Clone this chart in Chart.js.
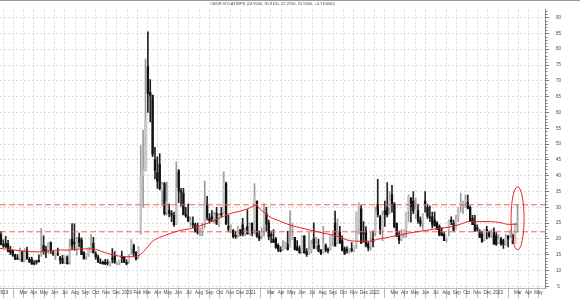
<!DOCTYPE html>
<html><head><meta charset="utf-8">
<script src="https://cdn.jsdelivr.net/npm/chart.js@4"></script>
<style>html,body{margin:0;padding:0;background:#fff;overflow:hidden}</style>
</head><body>
<canvas id="c" width="580" height="298"></canvas>
<script>
const TITLE = 'CBOE VOLAT.IBPS (24.9500, 30.8100, 22.2700, 25.5300, +0.710000)';
const FIRST_WEEK = [2018, 11, 31]; // Monday of the first weekly bar (UTC y, m0, d)

// weekly OHLC, one row per year (week 0 = week of 31 Dec 2018)
const open = [
 28.0,
 21.4,18.2,18.6,18.5,16.3,16.4,14.9,14.0,13.9,16.0,13.1,16.3,13.6,13.6,12.3,12.8,13.2,15.4,18.0,16.5,16.3,18.9,15.5,15.3,15.3,14.1,13.8,12.7,14.3,12.8,20.0,19.0,16.8,20.4,19.7,15.6,14.7,15.2,16.3,18.6,15.3,14.3,12.6,12.6,12.7,12.6,12.0,13.9,14.5,12.5,12.6,14.6,
 14.3,12.5,12.9,17.0,18.0,15.6,14.5,22.0,40.1,42.0,74.5,66.4,65.5,45.0,41.0,43.5,35.5,37.5,28.5,29.0,28.0,27.5,25.0,41.5,35.0,34.5,27.5,27.0,25.5,25.0,24.5,22.5,22.0,22.5,25.0,31.0,26.5,27.0,26.5,28.0,25.0,28.0,28.5,37.5,24.0,23.0,22.7,21.0,21.4,23.0,24.5,22.0,
 24.0,22.0,25.0,23.0,32.0,21.0,21.0,24.0,28.0,25.0,21.5,20.0,20.0,18.0,16.5,17.0,17.5,18.5,17.5,20.0,20.5,17.5,17.0,16.0,21.0,16.0,15.5,16.5,20.0,18.0,18.0,16.5,16.0,18.0,16.5,17.0,20.5,25.0,19.0,22.0,19.5,17.0,16.5,16.5,17.0,16.5,18.0,23.0,29.5,22.0,22.5,18.5,
 17.5,20.0,22.0,31.0,27.0,23.0,29.0,30.0,30.0,34.0,31.0,25.0,21.0,20.0,22.0,23.0,29.0,33.0,32.0,28.0,29.0,26.0,25.0,32.0,30.0,27.0,27.0,26.0,25.0,24.0,22.0,21.5,20.0,23.0,26.0,25.0,23.0,27.0,31.0,31.0,32.0,31.5,30.0,26.5,24.5,23.5,22.5,21.5,20.0,23.0,22.0,21.5,
 22.0,21.0,19.0,20.0,19.5,18.5,21.0,21.5,21.0,18.5,24.95
];
const high = [
 28.5,
 22.4,19.7,20.8,19.6,17.7,16.6,15.2,15.1,17.2,16.0,17.0,17.4,14.2,14.3,13.2,13.3,15.0,23.4,21.0,17.7,18.9,19.1,16.3,16.0,17.1,14.5,14.8,14.6,14.7,19.8,24.9,24.8,20.6,21.9,20.4,16.0,15.4,17.3,21.5,20.5,15.9,14.9,13.7,13.0,13.6,13.5,12.8,17.0,16.0,12.8,13.3,16.2,
 14.5,13.4,15.0,19.8,18.4,16.0,17.5,49.5,54.4,77.0,85.5,70.4,64.0,49.0,46.0,47.0,38.0,37.9,38.0,31.0,29.0,28.5,44.4,42.0,36.0,36.0,30.0,31.0,27.0,27.0,25.0,25.0,23.5,25.0,38.3,33.5,28.0,29.0,28.5,30.0,28.0,30.0,41.2,38.0,27.5,24.5,23.0,22.5,24.0,23.0,26.5,23.5,
 29.2,25.0,25.0,37.5,32.0,22.5,23.5,31.2,30.0,26.0,22.5,23.0,20.5,18.5,17.5,19.5,19.0,22.5,28.9,25.0,20.5,19.5,17.8,21.0,21.0,17.0,22.0,19.5,25.1,20.5,20.0,16.7,24.0,18.5,17.2,21.0,22.5,28.8,26.4,24.0,21.0,17.5,17.5,17.0,18.9,17.9,28.6,31.4,30.6,25.5,23.9,19.0,
 22.0,22.6,30.0,38.9,27.5,28.8,32.0,37.8,35.0,37.0,31.5,25.0,22.5,23.0,23.0,28.5,34.0,33.0,35.0,33.0,31.0,27.0,28.0,35.0,31.0,30.5,28.5,28.5,25.5,24.5,23.5,22.0,20.2,26.0,27.0,26.0,27.5,30.0,34.5,32.0,34.0,33.9,30.5,27.5,27.5,24.5,23.0,22.5,23.0,24.0,22.5,23.0,
 23.5,22.0,21.5,20.5,20.0,21.5,21.0,23.0,21.5,25.0,30.81
];
const low = [
 21.0,
 18.1,17.3,17.4,15.9,15.0,14.5,13.5,13.5,13.2,12.9,12.9,13.6,12.5,12.0,11.8,12.0,12.7,14.5,15.2,14.1,15.5,15.4,14.8,13.5,14.7,12.1,12.2,12.2,12.0,12.0,16.8,16.5,14.9,17.5,15.0,13.7,13.5,14.5,15.8,15.6,13.5,12.6,12.3,12.0,11.9,11.7,11.4,12.4,12.3,11.9,11.8,12.5,
 12.5,11.8,12.3,15.0,14.5,13.3,13.7,21.5,30.0,41.5,60.0,57.0,46.0,39.0,36.0,35.5,30.5,27.5,27.6,27.0,25.5,24.0,24.5,31.5,30.4,27.6,26.8,25.5,24.0,23.5,22.2,21.5,21.0,21.0,23.5,26.0,25.0,25.5,25.0,24.5,24.0,27.0,28.0,24.5,22.4,21.9,20.3,20.2,20.5,21.0,21.0,21.0,
 21.5,21.2,21.0,21.5,20.5,19.5,20.0,20.9,22.5,19.7,18.8,18.8,17.0,16.0,15.9,16.5,16.9,16.5,17.5,19.8,16.5,16.4,15.4,15.5,15.5,14.5,15.0,15.5,16.9,16.8,15.9,15.0,15.5,15.9,15.6,16.5,17.9,17.8,18.5,18.5,16.2,15.0,15.5,15.5,15.9,15.9,17.0,21.6,18.6,19.0,17.5,16.2,
 16.5,17.5,21.0,27.0,21.5,19.5,24.0,27.0,28.0,28.5,23.5,20.8,18.5,19.5,20.5,20.5,25.5,25.3,28.0,26.5,25.0,24.0,23.0,28.5,26.5,25.5,23.5,24.0,23.0,21.0,21.0,19.5,19.0,21.0,24.5,22.5,23.0,25.5,28.5,28.0,30.0,29.5,25.5,24.5,22.5,22.5,20.5,19.0,19.5,20.0,20.5,20.5,
 18.5,18.0,18.5,18.0,17.0,18.0,17.5,20.5,18.5,18.5,22.27
];
const close = [
 21.4,
 18.2,17.8,17.4,16.1,15.7,14.9,13.5,13.6,16.1,12.9,16.5,13.7,12.8,12.0,12.1,12.7,12.9,16.0,16.0,15.9,18.7,16.3,15.3,15.4,15.1,13.3,12.4,14.5,12.2,17.6,18.0,18.5,19.9,19.0,15.0,13.7,15.3,17.2,17.0,15.6,14.3,12.7,12.3,12.1,12.1,12.3,12.6,13.6,12.6,12.5,13.4,14.0,
 12.6,12.1,14.6,18.8,15.5,13.7,17.1,40.1,41.9,57.8,66.0,65.5,46.8,41.7,38.2,35.9,37.2,28.0,31.9,28.2,27.5,24.5,36.1,35.1,34.7,27.7,27.3,25.7,25.8,24.5,22.2,22.1,22.5,23.0,30.8,26.9,25.8,26.4,27.6,25.0,27.4,27.6,38.0,24.9,23.1,23.7,20.8,20.8,23.3,21.6,21.5,22.75,
 21.6,24.3,21.9,33.1,20.9,20.0,22.1,28.0,24.7,20.7,20.95,18.9,17.3,16.7,16.25,17.3,18.6,16.7,18.8,20.15,16.8,16.4,15.65,20.7,15.6,15.1,16.2,18.45,17.2,18.2,16.15,15.45,18.6,16.4,16.4,20.95,20.8,17.75,21.15,18.8,16.3,15.4,16.3,16.5,16.3,17.9,28.6,30.7,18.7,21.6,17.96,17.2,
 18.8,19.2,28.85,27.7,23.2,27.4,27.75,27.6,32.0,30.75,23.9,20.8,19.6,21.2,22.95,28.2,33.4,30.2,28.9,29.4,25.7,24.8,27.75,31.1,27.2,26.7,24.6,24.2,23.0,21.3,21.15,19.5,20.6,25.6,25.5,22.8,26.3,29.9,31.6,31.4,32.0,29.7,25.75,24.55,22.5,23.1,20.5,19.1,22.8,22.6,20.9,21.7,
 18.3,18.35,19.85,18.5,18.3,20.5,20.0,21.7,18.5,24.8,25.53
];

// red moving-average line (week index, value)
const maWeek  = [0,5,9,13,17,22,26,30,34,38,41,43,47,50,53,57,60,62.5,65,68,72,76.5,80.5,85,89,93,97.5,101.5,106,108.5,111,114.5,118.5,123,127,131,135.5,140,144,148,152.5,156.5,160.5,165,169,173.5,177.5,182,186,190,194.5,198.5,203,207,211.5,215.5,219];
const maValue = [17.1,16.6,16.3,16.0,15.9,16.3,16.5,16.5,16.8,16.9,16.7,16.2,15.2,14.7,14.4,14.4,15.2,17.1,19.3,20.5,21.6,22.7,23.2,24.2,25.2,26.5,28.0,28.7,29.8,30.6,29.0,27.0,25.7,24.4,23.6,22.9,22.1,21.4,20.6,19.5,19.3,19.3,20.0,20.6,21.2,21.9,22.4,22.9,23.4,23.7,24.6,25.5,25.5,25.5,25.2,24.6,24.7];

// x-axis labels, one per month from Jan 2019 to Jun 2023
const monthLabels = [
 '2019','','Mar','Apr','May','Jun','Jul','Aug','Sep','Oct','Nov','Dec',
 '2020','Feb','Mar','Apr','May','Jun','Jul','Aug','Sep','Oct','Nov','Dec',
 '2021','','Mar','Apr','May','Jun','Jul','Aug','Sep','Oct','Nov','Dec',
 '2022','','Mar','Apr','May','Jun','Jul','Aug','Sep','Oct','Nov','Dec',
 '2023','','Mar','Apr','May',''
];
const yTicks = [5,10,15,20,25,30,35,40,45,50,55,60,65,70,75,80,85,90];

// ---------- build ----------
const DAY = 86400000;
const t0 = Date.UTC(FIRST_WEEK[0], FIRST_WEEK[1], FIRST_WEEK[2]);
const X_MIN = 6.2, X_MAX = 1616;   // visible range in days from first Monday
const weekX = i => i * 7 + 2;
const monthStarts = [];
for (let y = 2019; y <= 2023; y++) for (let m = 0; m < 12; m++) {
  if (monthStarts.length >= monthLabels.length) break;
  monthStarts.push((Date.UTC(y, m, 1) - t0) / DAY);
}

const upB = [], dnB = [], upW = [], dnW = [];
for (let i = 0; i < close.length; i++) {
  const x = weekX(i), up = close[i] >= open[i];
  (up ? upB : dnB).push({x, y: [open[i], close[i]]});
  (up ? upW : dnW).push({x, y: [low[i], high[i]]});
}
const ma = maWeek.map((w, i) => ({x: weekX(w), y: maValue[i]}));
const last = close.length - 1;
const lastHigh = high[last], lastLow = low[last];
const hiLine = [{x: X_MIN, y: lastHigh}, {x: X_MAX, y: lastHigh}];
const loLine = [{x: X_MIN, y: lastLow}, {x: X_MAX, y: lastLow}];

const FONT = '"Liberation Sans", Arial, sans-serif';

const decor = {
  id: 'decor',
  beforeDraw(chart) {
    const ctx = chart.ctx;
    ctx.save();
    ctx.fillStyle = '#fff';
    ctx.fillRect(0, 0, chart.width, chart.height);
    ctx.strokeStyle = '#9a9a9a';
    ctx.lineWidth = 1;
    ctx.beginPath(); ctx.moveTo(0, 0.5); ctx.lineTo(chart.width, 0.5); ctx.stroke();
    ctx.restore();
  },
  afterDraw(chart) {
    const ctx = chart.ctx, ys = chart.scales.y, xs = chart.scales.x, ca = chart.chartArea;
    ctx.save();
    // minor ticks on the price axis
    ctx.strokeStyle = '#808080'; ctx.lineWidth = 1;
    ctx.beginPath();
    for (let v = Math.ceil(ys.min); v <= ys.max; v++) {
      if (v % 5 === 0) continue;
      const py = Math.round(ys.getPixelForValue(v)) + 0.5;
      ctx.moveTo(ca.right, py); ctx.lineTo(ca.right + 2.5, py);
    }
    ctx.stroke();
    // ellipse around the last bar
    const cx = xs.getPixelForValue(weekX(last));
    const cy = ys.getPixelForValue((lastHigh + lastLow) / 2);
    const ry = Math.abs(ys.getPixelForValue(lastHigh + 5.7) - cy);
    ctx.strokeStyle = '#e8282d'; ctx.lineWidth = 1;
    ctx.beginPath(); ctx.ellipse(cx, cy, 6.5, ry, 0, 0, Math.PI * 2); ctx.stroke();
    // title
    ctx.fillStyle = '#444';
    ctx.font = '4px ' + FONT;
    ctx.textAlign = 'center'; ctx.textBaseline = 'middle';
    ctx.fillText(TITLE, (ca.left + ca.right) / 2, 3.6);
    ctx.restore();
  }
};

new Chart(document.getElementById('c'), {
  type: 'bar',
  data: { datasets: [
    {type: 'line', data: ma, borderColor: '#f01e1e', borderWidth: 1, pointRadius: 0, cubicInterpolationMode: 'monotone', order: 0},
    {type: 'line', data: hiLine, borderColor: '#ff5a5a', borderWidth: 1, borderDash: [6, 3], pointRadius: 0, order: 1},
    {type: 'line', data: loLine, borderColor: '#ff5a5a', borderWidth: 1, borderDash: [6, 3], pointRadius: 0, order: 1},
    {data: upB, backgroundColor: '#c4c4c4', barThickness: 1.7, minBarLength: 1, grouped: false, order: 2},
    {data: dnB, backgroundColor: '#111', barThickness: 1.7, minBarLength: 1, grouped: false, order: 2},
    {data: upW, backgroundColor: '#9c9c9c', barThickness: 1, grouped: false, order: 3},
    {data: dnW, backgroundColor: '#222', barThickness: 1, grouped: false, order: 3}
  ]},
  options: {
    responsive: false, animation: false, events: [],
    layout: {padding: {top: 1, left: 0, right: 0, bottom: 0}},
    plugins: {legend: {display: false}, tooltip: {enabled: false}},
    scales: {
      x: {
        type: 'linear', min: X_MIN, max: X_MAX, offset: false,
        afterBuildTicks(s) { s.ticks = monthStarts.map(v => ({value: v})); },
        afterFit(s) { s.height = 10; },
        ticks: {autoSkip: false, maxRotation: 0, minRotation: 0, labelOffset: 5.1, padding: -8,
          font: {size: 4.5, family: FONT}, color: '#444',
          callback: (v, i) => monthLabels[i]},
        grid: {color: '#dcdcdc', tickColor: '#b5b5b5', tickLength: 10, lineWidth: 1},
        border: {display: true, color: '#bbb', dash: [2, 2]}
      },
      y: {
        type: 'linear', position: 'right', min: 4.5, max: 92.5,
        afterBuildTicks(s) { s.ticks = yTicks.map(v => ({value: v})); },
        afterFit(s) { s.width = 35; },
        ticks: {font: {size: 4.5, family: FONT}, color: '#444', padding: 7, crossAlign: 'center',
          callback: v => String(v)},
        grid: {color: '#dcdcdc', tickColor: '#777', tickLength: 4},
        border: {color: '#888', dash: [2, 2]}
      }
    }
  },
  plugins: [decor]
});
</script>
</body></html>
